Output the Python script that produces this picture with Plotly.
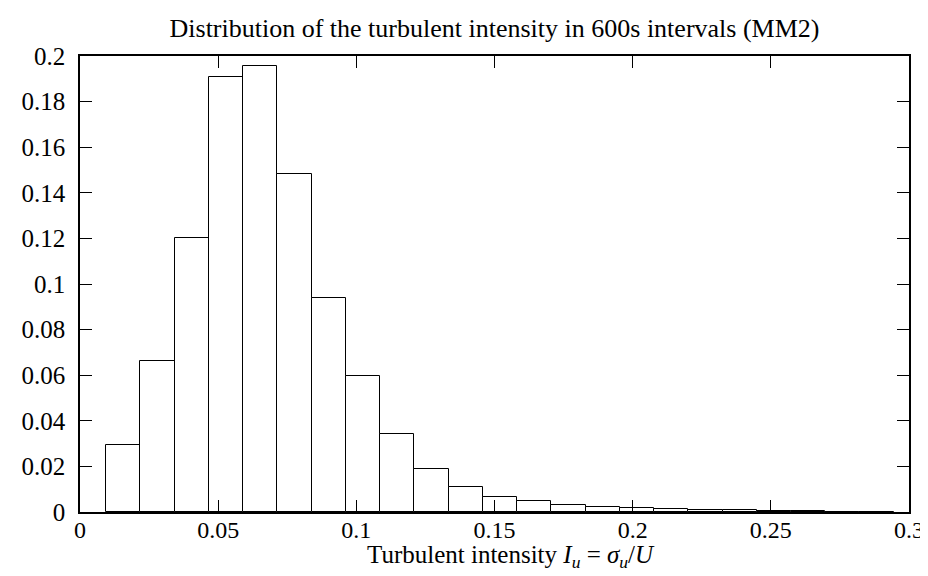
import numpy as np
import plotly.graph_objects as go

# Histogram data
bin_start = 0.0095
bin_width = 0.01239
densities = [0.0294, 0.0662, 0.1203, 0.1908, 0.1958, 0.1484, 0.0939, 0.0598,
             0.0343, 0.0190, 0.0108, 0.0067, 0.0047, 0.0029, 0.0021, 0.0018,
             0.0012, 0.0010, 0.0009, 0.0006, 0.0003, 0.0002, 0.0002]
x_ticks = [0, 0.05, 0.1, 0.15, 0.2, 0.25, 0.3]
y_ticks = [0, 0.02, 0.04, 0.06, 0.08, 0.1, 0.12, 0.14, 0.16, 0.18, 0.2]

centers = bin_start + bin_width * (np.arange(len(densities)) + 0.5)

FONT = "Liberation Serif"

fig = go.Figure(go.Bar(
    x=centers, y=densities, width=bin_width,
    marker=dict(color="white", line=dict(color="black", width=1)),
    hoverinfo="x+y",
))

fig.update_layout(
    width=928, height=576,
    margin=dict(l=72, r=24, t=48, b=72),
    paper_bgcolor="white", plot_bgcolor="white",
    font=dict(family=FONT, size=25, color="black"),
    title=dict(text="Distribution of the turbulent intensity in 600s intervals (MM2)",
               x=0.5, xref="paper", xanchor="center", y=0.966, yanchor="middle",
               font=dict(family=FONT, size=26)),
    showlegend=False,
    bargap=0,
    annotations=[dict(
        text="Turbulent intensity <i>I<sub>u</sub></i> = <i>σ<sub>u</sub></i>/<i>U</i>",
        xref="paper", yref="paper", x=0.52, y=-0.098, xanchor="center", yanchor="middle",
        showarrow=False, font=dict(family=FONT, size=25),
    )],
)
fig.update_xaxes(
    range=[0, 0.3], tickvals=x_ticks, ticktext=[f"{v:g}" for v in x_ticks],
    ticks="inside", ticklen=12, tickwidth=1, tickcolor="black",
    showline=True, linecolor="black", linewidth=1.5, mirror="ticks",
    showgrid=False, zeroline=False, ticklabelstandoff=-5,
    tickfont=dict(family=FONT, size=24),
)
fig.update_yaxes(
    range=[0, 0.2], tickvals=y_ticks, ticktext=[f"{v:g}" for v in y_ticks],
    ticks="inside", ticklen=12, tickwidth=1, tickcolor="black",
    showline=True, linecolor="black", linewidth=1.5, mirror="ticks",
    showgrid=False, zeroline=False, ticklabelstandoff=8,
    tickfont=dict(family=FONT, size=25),
)

fig.write_html("out.html")
